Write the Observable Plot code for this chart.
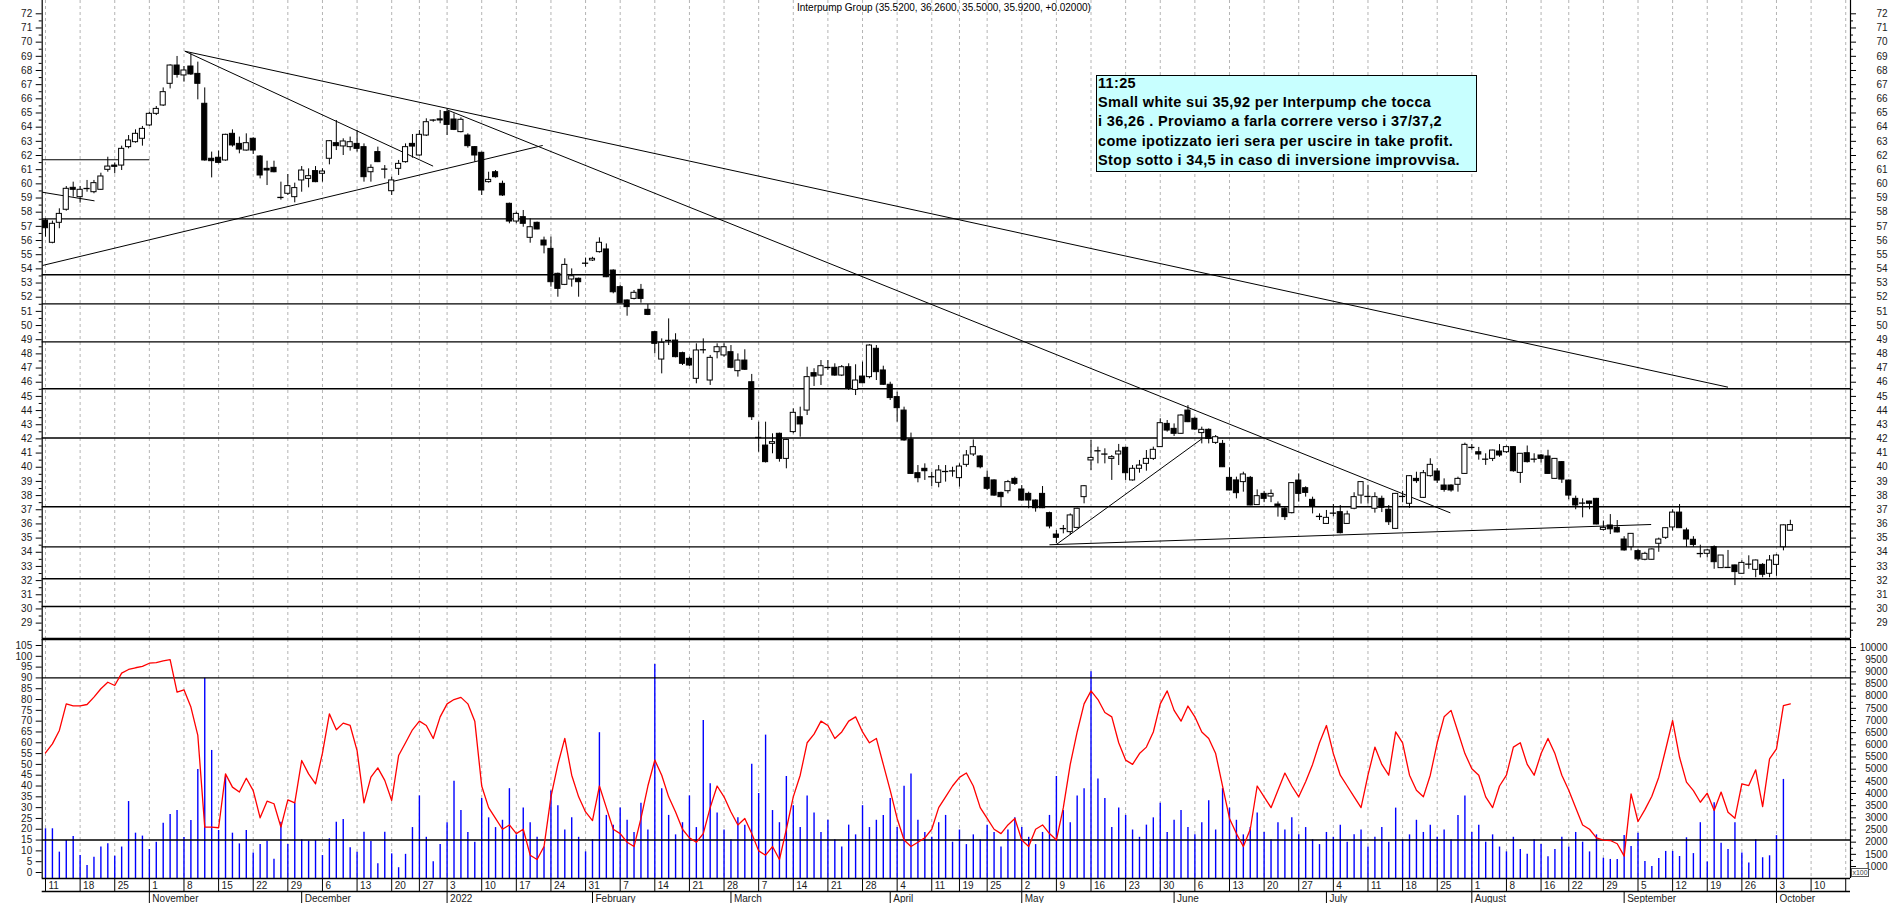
<!DOCTYPE html>
<html><head><meta charset="utf-8">
<script src="https://cdn.jsdelivr.net/npm/d3@7"></script>
<script src="https://cdn.jsdelivr.net/npm/@observablehq/plot@0.6"></script>
<style>
body{margin:0;background:#fff;}
#chart{position:relative;width:1890px;height:903px;overflow:hidden;background:#fff;font-family:"Liberation Sans",Arial,sans-serif;}
#chart svg{position:absolute;left:0;top:0;}
#title{position:absolute;left:797px;top:3px;font-size:10px;line-height:10px;white-space:pre;color:#000;}
#notebox{position:absolute;left:1096px;top:75px;width:381px;height:97px;box-sizing:border-box;background:#c8ffff;border:1.5px solid #000;}
#notetext{position:absolute;left:1098px;top:74px;font-size:14.5px;font-weight:bold;line-height:19.2px;letter-spacing:0.35px;white-space:pre;color:#000;}
#x100{position:absolute;left:1851px;top:868px;width:18px;height:9px;box-sizing:border-box;border:1px solid #555;background:#fff;font-size:7px;line-height:7px;text-align:center;color:#444;}
</style></head>
<body><div id="chart"></div>
<script>
// ---------------- DATA ----------------
const startDate = "2021-10-11";
const holidays = ["2021-12-24","2021-12-31","2022-04-15","2022-04-18","2022-08-15"];
const monthLabels = ["2022","February","March","April","May","June","July","August","September","October","November","December"];
const titleText = "Interpump Group (35.5200, 36.2600, 35.5000, 35.9200, +0.02000)";
const noteLines = ["11:25","Small white sui 35,92 per Interpump che tocca","i 36,26 . Proviamo a farla correre verso i 37/37,2","come ipotizzato ieri sera per uscire in take profit.","Stop sotto i 34,5 in caso di inversione improvvisa."];

const opens = [57.41,55.84,57.25,58.17,59.72,59.06,59.63,59.41,59.58,60.99,61.29,61.29,62.59,62.94,63.18,64.12,64.94,65.53,67.06,68.35,67.65,68.28,67.76,65.65,61.77,61.84,61.65,63.53,62.82,62.35,63.18,61.93,61.06,61.13,59.08,59.30,59.06,60.24,60.35,60.90,60.71,61.77,62.87,62.64,62.59,62.82,62.59,60.82,62.24,61.08,59.48,61.06,
61.53,62.82,62.00,63.41,64.45,64.55,65.06,64.54,63.65,63.41,62.59,62.19,60.12,60.82,60.00,58.59,57.34,57.65,56.19,57.25,56.00,55.41,53.65,52.87,53.25,53.30,54.44,54.59,55.18,55.37,53.88,52.71,51.77,51.88,52.52,51.11,49.53,
47.60,49.00,48.94,48.05,47.65,46.24,48.33,46.12,48.12,47.89,48.12,46.78,47.53,46.00,42.14,41.53,41.65,42.36,40.59,42.48,43.53,44.00,46.64,46.47,47.08,47.02,46.47,47.06,45.46,46.40,46.36,48.36,46.83,45.82,44.95,44.00,41.96,39.58,39.89,39.37,38.90,39.74,39.70,39.23,40.17,40.90,40.76,39.25,39.07,38.19,38.31,39.18,38.43,38.12,37.65,38.12,36.76,35.25,35.63,35.42,35.72,37.89,40.48,41.20,40.97,40.59,40.90,41.37,39.07,39.89,40.24,40.59,41.42,43.06,42.71,42.36,44.00,43.42,42.41,42.64,41.72,41.65,39.25,39.07,38.95,39.25,
37.33,38.12,37.93,37.37,37.07,36.76,39.06,38.52,37.70,36.57,36.00,36.80,36.83,36.00,37.07,38.00,37.98,37.07,37.77,37.00,35.65,37.98,37.42,39.18,37.84,39.37,39.70,38.71,38.71,38.76,39.53,41.44,41.06,40.61,40.59,41.11,41.06,41.42,39.60,40.99,40.61,40.83,40.76,39.18,40.36,39.06,37.77,37.51,37.58,37.77,35.58,35.89,35.72,34.90,34.36,34.08,33.47,33.47,34.60,35.02,35.75,36.80,35.54,34.88,33.95,33.89,34.36,32.88,32.97,33.07,32.48,33.20,32.76,33.11,32.48,33.11,34.36,35.52];
const highs = [57.53,57.37,58.24,59.81,60.12,59.81,60.24,60.24,60.75,61.88,61.46,62.66,63.41,63.81,64.05,65.06,65.46,66.77,68.40,68.99,68.28,69.18,68.59,66.77,62.24,62.31,63.50,63.81,63.30,63.53,63.25,62.00,61.60,61.60,60.12,60.66,60.05,61.22,61.06,61.22,61.06,63.06,64.47,63.18,63.30,63.77,62.82,61.34,62.59,61.29,60.47,61.65,
62.82,63.48,63.76,64.59,64.52,65.18,65.29,64.94,64.66,63.53,62.63,62.24,60.82,60.94,60.19,58.64,58.00,58.12,57.53,57.30,56.24,56.24,53.70,54.71,54.00,53.35,54.76,54.82,56.19,55.76,53.93,52.82,51.81,52.47,52.90,51.48,49.58,
49.06,50.47,49.42,48.12,47.77,48.71,49.06,47.89,48.71,48.71,48.59,48.00,48.29,46.55,43.18,43.18,42.36,42.41,41.98,44.12,44.24,47.06,46.95,47.53,47.53,47.30,47.18,47.30,47.23,47.42,48.65,48.59,47.13,46.00,45.30,44.24,42.41,40.12,40.24,39.65,40.12,40.12,40.00,40.24,41.18,41.93,40.83,39.72,39.11,38.24,39.07,39.30,38.71,38.24,37.70,38.64,36.83,35.54,35.89,36.71,37.11,38.71,41.89,41.42,41.30,40.83,41.61,41.42,40.12,40.48,41.18,41.42,43.42,43.30,43.06,43.72,44.35,43.53,42.83,42.71,42.24,41.89,39.96,39.30,39.65,39.35,
38.40,38.30,38.40,37.55,37.18,38.90,39.53,38.62,37.89,36.71,36.95,37.37,37.30,36.90,38.20,38.98,38.73,38.20,37.96,37.30,38.15,38.30,39.40,39.65,39.77,40.60,39.90,39.18,38.76,39.30,41.70,41.60,41.40,40.95,41.20,41.60,41.50,41.45,40.97,41.50,40.95,40.90,41.20,40.62,40.40,39.10,37.96,37.77,37.60,37.80,36.20,36.66,36.24,35.10,35.30,34.20,34.00,34.24,35.00,35.72,37.00,37.37,35.70,35.10,34.50,34.20,34.45,33.77,34.13,33.10,33.40,33.75,33.45,33.20,33.77,33.85,35.93,36.26];
const lows = [56.24,55.77,56.83,58.07,59.06,58.64,59.41,59.30,59.53,60.82,60.71,60.94,62.47,62.87,62.66,64.05,64.82,65.46,66.70,67.46,67.18,67.65,65.93,61.60,60.42,61.41,61.60,62.59,62.12,62.31,62.07,60.35,59.88,60.78,58.85,59.18,58.66,59.41,59.72,60.08,60.12,61.34,62.35,62.00,62.31,62.24,60.12,60.12,61.50,60.35,59.18,60.59,
61.46,61.81,61.95,63.34,64.35,64.24,63.41,63.76,63.60,62.52,61.53,59.18,60.05,60.40,59.11,57.18,57.18,56.94,55.81,56.76,55.06,52.71,52.00,52.82,52.71,52.00,54.12,54.52,55.11,53.38,52.24,51.53,50.66,51.81,51.58,50.70,48.00,
46.59,48.59,47.72,47.18,47.11,45.89,48.00,45.77,47.65,47.77,46.95,46.36,46.83,43.30,41.06,40.30,40.95,40.36,39.89,42.36,42.12,43.65,45.70,45.77,46.83,46.42,46.40,45.42,45.06,45.89,46.24,46.12,45.77,44.71,43.18,41.84,39.49,38.90,39.07,38.64,38.55,38.95,39.30,38.60,40.00,40.76,39.89,38.36,37.95,37.18,38.12,38.71,37.61,37.07,36.83,37.08,35.65,34.60,35.30,35.19,35.65,37.42,39.77,40.24,40.24,39.07,40.12,39.07,39.02,39.58,39.72,40.48,41.40,42.48,42.17,42.31,43.15,42.59,41.65,41.65,41.61,39.98,38.34,37.77,38.24,37.28,
37.30,37.50,37.50,36.48,36.24,36.71,37.54,37.89,36.71,36.24,35.96,36.50,35.30,35.96,37.00,37.40,37.40,36.76,36.80,35.89,35.62,37.49,37.10,38.86,37.80,39.30,38.86,38.24,38.24,38.24,39.50,41.20,40.50,40.13,40.40,40.70,40.97,39.65,38.86,40.30,40.30,40.30,39.50,39.15,38.86,37.70,37.00,36.43,37.00,35.94,35.50,35.25,35.37,34.08,34.10,33.37,33.40,33.45,34.00,34.90,35.50,35.68,34.35,34.36,33.60,33.60,32.80,32.85,32.93,31.65,32.46,32.80,32.20,32.20,32.20,32.30,34.10,35.50];
const closes = [56.87,57.18,57.88,59.65,59.58,59.58,59.67,60.05,60.52,61.22,61.20,62.47,63.06,63.53,63.88,64.94,65.29,66.47,68.35,67.69,68.00,67.72,67.06,61.65,61.60,61.48,63.46,62.71,62.42,62.87,62.35,60.59,60.94,60.82,59.04,59.84,59.70,60.94,60.54,60.12,60.87,63.01,62.66,62.99,62.94,62.47,60.47,61.13,61.53,61.04,60.24,61.41,
62.59,62.63,63.46,64.35,64.50,64.47,64.16,63.81,64.52,62.66,62.00,59.53,60.28,60.47,59.18,57.34,57.88,57.18,56.94,56.78,55.65,53.06,52.59,54.28,53.48,53.06,54.40,54.71,55.84,53.41,52.35,51.58,51.30,52.31,51.88,50.75,48.71,
48.78,48.95,47.77,47.30,47.18,48.24,48.29,47.72,48.47,48.47,47.02,47.53,46.88,43.53,42.10,40.36,41.77,40.59,41.93,43.84,43.02,46.36,46.40,47.13,47.04,46.47,47.06,45.53,46.12,45.93,48.59,46.71,45.82,44.88,44.17,41.89,39.53,39.23,39.72,39.33,39.77,39.70,39.74,40.05,40.83,41.42,40.00,38.48,38.00,37.89,38.95,38.83,37.65,37.65,37.11,37.11,35.82,35.02,35.67,36.60,37.07,38.66,40.66,41.16,40.93,40.71,41.11,39.58,39.89,40.12,40.59,41.23,43.11,42.59,42.36,43.65,43.18,42.66,42.64,42.00,42.12,40.00,38.36,38.17,39.49,37.30,
37.96,37.77,38.12,37.25,36.48,38.88,38.12,38.19,37.23,36.53,36.43,36.76,35.35,36.67,37.89,38.95,37.94,37.89,37.14,36.12,38.12,37.94,39.37,39.02,39.58,40.17,39.06,38.40,38.36,39.18,41.58,41.40,40.90,40.57,41.18,40.83,41.42,39.72,40.95,40.36,40.57,40.59,39.53,40.59,39.13,38.00,37.30,37.47,37.42,35.96,35.72,35.62,35.40,34.13,35.30,33.50,33.89,34.20,34.90,35.70,36.80,35.70,34.90,34.52,33.91,34.13,33.30,33.77,32.93,32.60,33.25,33.16,33.42,32.41,33.42,33.77,35.90,35.92];

// oscillator (left lower axis)
const oscillator = [55.3,59.5,65.7,78.0,77.1,77.1,77.7,81.1,85.0,88.0,86.5,92.2,93.9,94.7,95.3,96.8,97.1,97.9,98.5,83.4,84.5,76.5,63.4,21.0,21.0,20.7,45.6,39.5,37.2,43.6,37.9,25.3,33.0,31.8,21.0,33.6,32.2,51.8,45.6,41.0,55.2,73.4,66.0,69.1,68.0,56.4,32.2,44.1,48.4,42.6,33.3,54.1,
60,66,70,68,62,72,78,80,81,78,70,40,30,25,20,22,18,20,8,6,12,35,50,62,45,35,28,24,40,30,20,18,14,12,25,40,52,45,35,28,20,16,14,18,30,40,35,28,22,25,18,10,8,12,6,20,35,45,60,64,70,68,62,65,70,72,65,60,62,50,38,25,15,12,14,16,20,30,35,40,44,46,40,30,25,20,18,22,25,15,12,20,22,18,15,30,50,65,78,84,80,74,72,60,52,50,55,58,65,78,84,75,70,77,72,65,62,55,40,25,18,12,20,40,35,30,38,46,40,35,42,50,60,68,55,45,40,35,30,45,58,50,45,65,60,45,38,35,45,60,72,75,65,55,48,45,35,30,40,45,58,60,50,45,55,62,55,45,38,30,22,20,16,
15.0,14.8,13.3,7.6,36.4,23.6,29.1,35.3,44.1,57,70.3,53.3,41.8,37.9,32.5,36.7,28.7,37.2,27.9,25.1,41.0,40.2,47.5,30.5,52.6,57.2,77.2,78.0];
// volume (right lower axis, x100)
const volume = [2550,2550,1590,2070,2230,1450,1040,1380,1800,1930,1420,1800,3670,2370,2250,1700,2000,2780,3140,3300,2190,2890,4990,8740,5770,2480,4670,2370,1930,2480,1550,1900,2040,1300,2820,1900,3600,2100,2040,2070,1450,2140,2820,2930,1770,1590,2410,2030,1110,2410,1520,950,
1500,2600,3900,2200,1200,1900,2800,4500,3300,2400,2000,3800,3000,2600,2900,4200,2300,3400,2800,2200,1800,4100,3500,2500,3000,2200,1600,2100,6500,3100,2700,3400,2900,2400,3600,2500,9300,4200,3100,2300,2800,3900,2600,7000,4400,3200,2500,2100,3000,2700,5200,4000,6400,3300,2800,4700,3500,2600,3900,3200,2400,2900,2100,1800,2700,2300,3500,2600,2900,3100,3800,2600,4300,4800,2900,2400,2200,2800,3100,2000,2500,1900,2300,2100,2700,2400,1800,2500,3000,2600,2200,1900,2400,3100,4700,3300,2800,3900,4200,9000,4600,3800,2600,3400,3100,2500,2200,2700,3000,3600,2400,2900,3300,2600,2300,2800,3700,2500,4200,3400,2900,2300,2600,3200,2400,2100,2800,2500,3000,2300,2600,2100,1900,2400,2200,2700,2000,2300,2500,1800,2200,2600,2000,3400,2100,2300,2900,2400,2700,2200,2500,2100,3100,3900,2400,2700,2000,2300,1800,1600,2200,1700,1500,2100,1900,1400,1700,2200,1800,2400,2000,1600,2300,
1340,1290,1290,2270,1820,2370,1210,1000,1330,1620,1620,1410,2180,1530,2800,1180,3620,1960,1700,2800,1550,1140,2100,1360,1440,2270,4580,null];

// horizontal levels and trendlines (price units / trading-day index)
const priceLevels = [57.53,53.58,51.53,48.85,45.54,42.06,37.21,34.38,32.13,30.17];
const oscLevels = [90,15];
const trendlines = [
  {i1:20.12,p1:69.36,i2:243.0,p2:45.65},
  {i1:20.12,p1:69.36,i2:55.98,p2:61.25},
  {i1:58.06,p1:65.21,i2:202.9,p2:36.78},
  {i1:-0.43,p1:54.24,i2:71.81,p2:62.71},
  {i1:146.0,p1:34.55,i2:167.03,p2:42.01},
  {i1:145.0,p1:34.53,i2:231.9,p2:35.96},
  {i1:-0.47,p1:61.70,i2:15.0,p2:61.70},
  {i1:-0.47,p1:59.41,i2:7.08,p2:58.80}
];
const priceTicks = d3.range(29, 73);
const oscTicks = d3.range(0, 106, 5);
const volTicks = d3.range(1000, 10001, 500);

// ---------------- LAYOUT ----------------
const W = 1890, H = 903;
const xDomain = [-0.476, 260.69];
const mL = 41.7, mR = W - 1850;
const pxPerDay = (1850 - mL) / (xDomain[1] - xDomain[0]);
const priceDomain = [72.939 - 638 / 14.17, 72.939];
const oscDomain = [(872 - 878) / 2.162, (872 - 639) / 2.162];
const volDomain = [1000 + (866 - 878) / 0.02433, 1000 + (866 - 639) / 0.02433];
const oscAt = y => (872 - y) / 2.162;
const font = "Liberation Sans, Arial, sans-serif";
const baseStyle = {background: "transparent", overflow: "visible", fontFamily: font};

// trading calendar
const days = [];
{
  const d = new Date(startDate + "T00:00:00Z");
  while (days.length < 262) {
    const wd = d.getUTCDay(), iso = d.toISOString().slice(0, 10);
    if (wd !== 0 && wd !== 6 && !holidays.includes(iso)) days.push(new Date(d));
    d.setUTCDate(d.getUTCDate() + 1);
  }
}
const weekTicks = [], monthTicks = [];
days.forEach((d, i) => {
  if (i > xDomain[1]) return;
  if (i === 0 || +d3.utcMonday.floor(d) !== +d3.utcMonday.floor(days[i - 1])) weekTicks.push({i, label: String(d.getUTCDate())});
  if (i > 0 && d.getUTCMonth() !== days[i - 1].getUTCMonth()) monthTicks.push({i, label: monthLabels[d.getUTCMonth()]});
});
const weekLabels = weekTicks.filter(d => d.i < xDomain[1] - 2);

const candles = closes.map((c, i) => ({i, o: opens[i], h: highs[i], l: lows[i], c}));
const bodies = candles.filter(d => Math.abs(d.o - d.c) >= 0.05);
const dojis = candles.filter(d => Math.abs(d.o - d.c) < 0.05);
const vols = volume.map((v, i) => ({i, v})).filter(d => d.v != null);

const tickL = (vals, len) => Plot.ruleY(vals, {y: d => d, x1: xDomain[0] - len / pxPerDay, x2: xDomain[0], stroke: "#000"});
const tickR = (vals, len) => Plot.ruleY(vals, {y: d => d, x1: xDomain[1], x2: xDomain[1] + len / pxPerDay, stroke: "#000"});
const labL = (vals) => Plot.text(vals, {y: d => d, text: d => String(d), x: () => xDomain[0], dx: -10, textAnchor: "end", fontSize: 10, fontFamily: font, fill: "#1a1a1a"});
const labR = (vals) => Plot.text(vals, {y: d => d, text: d => String(d), x: () => xDomain[1], dx: 37, textAnchor: "end", fontSize: 10, fontFamily: font, fill: "#1a1a1a"});
const grid = Plot.ruleX(weekTicks, {x: "i", stroke: "#b4b4b4", strokeWidth: 1, strokeDasharray: "3,3"});

// ---------------- PRICE PANEL ----------------
const price = Plot.plot({
  width: W, height: H, marginLeft: mL, marginRight: mR, marginTop: 0, marginBottom: H - 638,
  style: baseStyle,
  x: {domain: xDomain, axis: null},
  y: {domain: priceDomain, axis: null},
  marks: [
    grid,
    Plot.ruleY(priceLevels, {stroke: "#000", strokeWidth: 1.4}),
    Plot.link(trendlines, {x1: "i1", y1: "p1", x2: "i2", y2: "p2", stroke: "#000", strokeWidth: 1}),
    Plot.ruleX(candles, {x: "i", y1: "l", y2: "h", stroke: "#000", strokeWidth: 1}),
    Plot.rect(bodies, {x1: d => d.i - 0.37, x2: d => d.i + 0.37, y1: d => Math.min(d.o, d.c), y2: d => Math.max(d.o, d.c), fill: d => d.c > d.o ? "#fff" : "#000", stroke: "#000", strokeWidth: 1}),
    Plot.ruleY(dojis, {y: "c", x1: d => d.i - 0.45, x2: d => d.i + 0.45, stroke: "#000", strokeWidth: 1.3}),
    Plot.ruleX(xDomain, {stroke: "#000", strokeWidth: 1.2}),
    Plot.ruleY([priceDomain[0]], {stroke: "#000", strokeWidth: 1.4}),
    tickL(priceTicks, 6), tickL(priceTicks.map(v => v - 0.5), 3),
    tickR(priceTicks, 6), tickR(priceTicks.map(v => v - 0.5), 3),
    labL(priceTicks), labR(priceTicks)
  ]
});

// ---------------- VOLUME (right lower axis) ----------------
const volPlot = Plot.plot({
  width: W, height: H, marginLeft: mL, marginRight: mR, marginTop: 639, marginBottom: H - 878,
  style: baseStyle,
  x: {domain: xDomain, axis: null},
  y: {domain: volDomain, axis: null},
  marks: [
    grid,
    Plot.ruleX(vols, {x: "i", y1: volDomain[0], y2: "v", stroke: "#0000ff", strokeWidth: 1.4}),
    tickR(volTicks, 6), tickR(volTicks.map(v => v - 250), 3),
    labR(volTicks)
  ]
});

// ---------------- OSCILLATOR + X AXIS ----------------
const y878 = oscAt(878), y891 = oscAt(891), y903 = oscAt(904);
const osc = Plot.plot({
  width: W, height: H, marginLeft: mL, marginRight: mR, marginTop: 639, marginBottom: H - 878,
  style: baseStyle,
  x: {domain: xDomain, axis: null},
  y: {domain: oscDomain, axis: null},
  marks: [
    Plot.ruleY(oscLevels, {stroke: "#000", strokeWidth: 1.4}),
    Plot.ruleY([oscDomain[1]], {stroke: "#000", strokeWidth: 1.4}),
    Plot.lineY(oscillator, {x: (d, i) => i, y: d => d, stroke: "#ff0000", strokeWidth: 1.3}),
    Plot.ruleX(xDomain, {stroke: "#000", strokeWidth: 1.2}),
    tickL(oscTicks, 6), labL(oscTicks),
    Plot.ruleY([y878, y891], {stroke: "#000", strokeWidth: 1.3}),
    Plot.ruleX(weekTicks, {x: "i", y1: y878, y2: y891, stroke: "#000", strokeWidth: 1}),
    Plot.ruleX(monthTicks, {x: "i", y1: y891, y2: y903, stroke: "#000", strokeWidth: 1}),
    Plot.text(weekLabels, {x: "i", y: () => oscAt(885), text: "label", dx: 3, textAnchor: "start", fontSize: 10, fontFamily: font, fill: "#1a1a1a"}),
    Plot.text(monthTicks, {x: "i", y: () => oscAt(898), text: "label", dx: 3, textAnchor: "start", fontSize: 10, fontFamily: font, fill: "#1a1a1a"})
  ]
});

const chart = document.getElementById("chart");
chart.append(price, volPlot, osc);
const t = document.createElement("div"); t.id = "title"; t.textContent = titleText; chart.append(t);
const nb = document.createElement("div"); nb.id = "notebox"; chart.append(nb);
const nt = document.createElement("div"); nt.id = "notetext"; nt.textContent = noteLines.join("\n"); chart.append(nt);
const xb = document.createElement("div"); xb.id = "x100"; xb.textContent = "x100"; chart.append(xb);
</script>
</body></html>
